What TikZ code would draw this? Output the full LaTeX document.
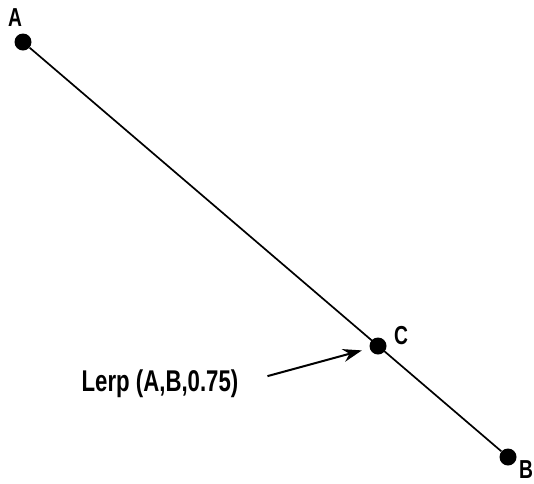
\documentclass[tikz,border=0pt]{standalone}
\usepackage{fontspec}
\setmainfont{Liberation Sans}[FakeStretch=0.74]
\usepackage{tikz}
\usetikzlibrary{positioning,arrows.meta}

\begin{document}
\begin{tikzpicture}[x=1pt,y=-1pt,
  dot/.style={circle,fill=black,inner sep=0pt,minimum size=17pt},
  ptlabel/.style={font=\bfseries\fontsize{26}{26}\selectfont,inner sep=0pt}]
\useasboundingbox (0,0) rectangle (534,483);
\node[dot] (A) at (23,42) {};
\node[dot] (C) at (378,346) {};
\node[dot] (B) at (508,457) {};
\node[ptlabel] (la) at (15,18) {A};
\node[ptlabel] (lc) at (401,336) {C};
\node[ptlabel] (lb) at (526,470) {B};
\node[font=\bfseries\fontsize{30}{30}\selectfont,inner sep=0pt] (lerp) at (160,384) {Lerp (A,B,0.75)};
\draw[line width=1.7pt] (A)--(B);
\draw[-{Stealth[length=19pt,width=13pt]},line width=2pt,shorten <=30pt,shorten >=8pt] (lerp.east)--(C);
\end{tikzpicture}
\end{document}
